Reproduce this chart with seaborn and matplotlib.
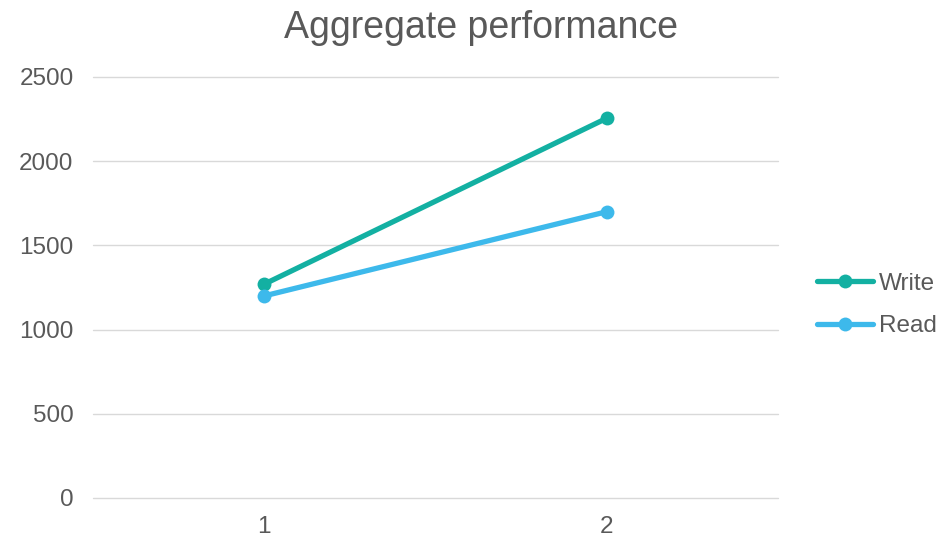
import matplotlib
matplotlib.use("Agg")
import matplotlib.pyplot as plt
import seaborn as sns
import pandas as pd
from matplotlib.lines import Line2D

categories = [1, 2]
write_values = [1270, 2255]
read_values = [1200, 1700]
series_names = ["Write", "Read"]
y_ticks = [0, 500, 1000, 1500, 2000, 2500]

df = pd.DataFrame({
    "x": categories * 2,
    "value": write_values + read_values,
    "series": [series_names[0]] * 2 + [series_names[1]] * 2,
})

sns.set_theme(style="white")
plt.rcParams["font.family"] = ["Liberation Sans", "DejaVu Sans"]

fig = plt.figure(figsize=(9.47, 5.41), dpi=100)
ax = fig.add_axes([0.0982, 0.0795, 0.7233, 0.7782])

palette = {"Write": "#13B0A2", "Read": "#3DB9EB"}
sns.lineplot(data=df, x="x", y="value", hue="series", palette=palette,
             marker="o", markersize=10, markeredgewidth=0, linewidth=3.8,
             ax=ax, legend=False)

ax.set_xlim(0.5, 2.5)
ax.set_ylim(0, 2500)
ax.set_yticks(y_ticks)
ax.set_xticks(categories)
ax.set_xticklabels([str(c) for c in categories])
ax.set_xlabel("")
ax.set_ylabel("")
ax.grid(axis="y", color="#D9D9D9", linewidth=1.0)
for gl in ax.get_ygridlines():
    gl.set_clip_on(False)
ax.set_axisbelow(True)
for s in ["top", "right", "left", "bottom"]:
    ax.spines[s].set_visible(False)
ax.tick_params(axis="both", length=0, labelsize=17.5, colors="#595959")
ax.tick_params(axis="x", pad=13)
ax.tick_params(axis="y", pad=14)

fig.suptitle("Aggregate performance", x=0.508, y=0.982, fontsize=27, color="#595959", va="top")

handles = [Line2D([0], [0], color=palette[n], linewidth=3.8, marker="o",
                  markersize=10, markeredgewidth=0) for n in series_names]
leg = fig.legend(handles, series_names, loc="center left", bbox_to_anchor=(0.8525, 0.436),
                 frameon=False, fontsize=17.5, handlelength=2.3, handletextpad=0.25,
                 labelspacing=0.85, labelcolor="#595959", borderaxespad=0)

fig.savefig("out.png", dpi=100)
